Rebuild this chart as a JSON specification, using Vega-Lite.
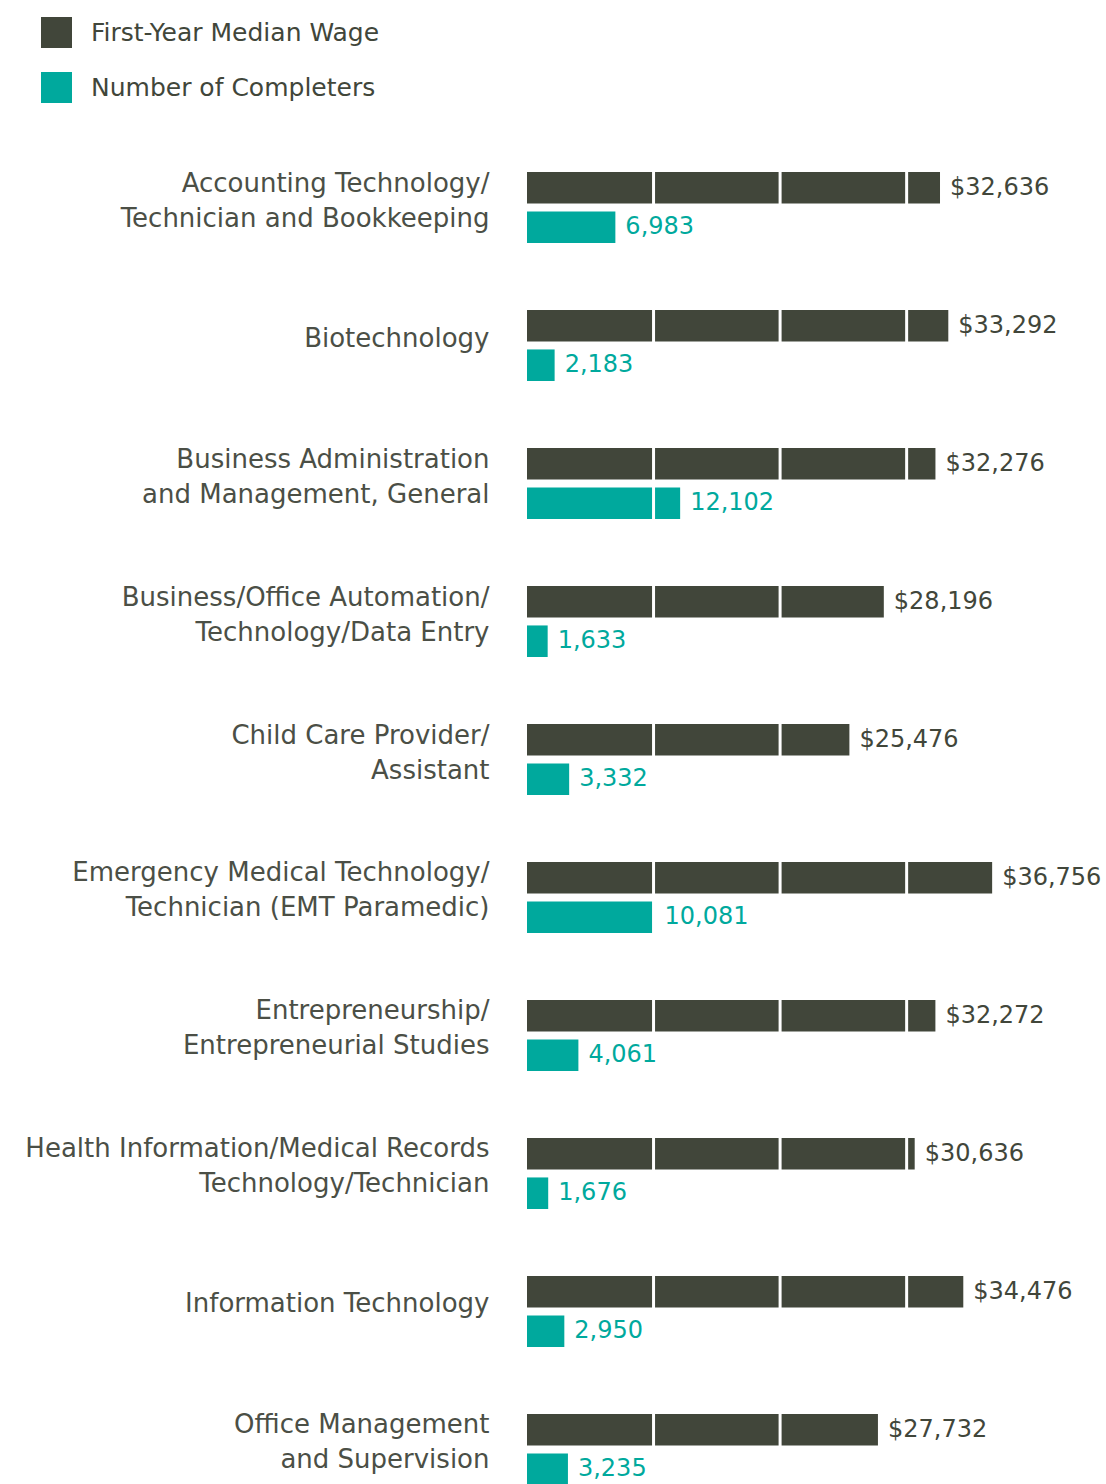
{
  "$schema": "https://vega.github.io/schema/vega-lite/v6.json",
  "width": 572,
  "height": 1313,
  "autosize": {"type": "none"},
  "padding": {"left": 527, "top": 172, "right": 7, "bottom": 0},
  "background": "white",
  "config": {"view": {"stroke": null}, "font": "DejaVu Sans"},
  "datasets": {
    "bars": [
      {"program": "Accounting Technology/\nTechnician and Bookkeeping", "measure": "First-Year Median Wage", "value": 32636},
      {"program": "Accounting Technology/\nTechnician and Bookkeeping", "measure": "Number of Completers", "value": 6983},
      {"program": "Biotechnology", "measure": "First-Year Median Wage", "value": 33292},
      {"program": "Biotechnology", "measure": "Number of Completers", "value": 2183},
      {"program": "Business Administration\nand Management, General", "measure": "First-Year Median Wage", "value": 32276},
      {"program": "Business Administration\nand Management, General", "measure": "Number of Completers", "value": 12102},
      {"program": "Business/Office Automation/\nTechnology/Data Entry", "measure": "First-Year Median Wage", "value": 28196},
      {"program": "Business/Office Automation/\nTechnology/Data Entry", "measure": "Number of Completers", "value": 1633},
      {"program": "Child Care Provider/\nAssistant", "measure": "First-Year Median Wage", "value": 25476},
      {"program": "Child Care Provider/\nAssistant", "measure": "Number of Completers", "value": 3332},
      {"program": "Emergency Medical Technology/\nTechnician (EMT Paramedic)", "measure": "First-Year Median Wage", "value": 36756},
      {"program": "Emergency Medical Technology/\nTechnician (EMT Paramedic)", "measure": "Number of Completers", "value": 10081},
      {"program": "Entrepreneurship/\nEntrepreneurial Studies", "measure": "First-Year Median Wage", "value": 32272},
      {"program": "Entrepreneurship/\nEntrepreneurial Studies", "measure": "Number of Completers", "value": 4061},
      {"program": "Health Information/Medical Records\nTechnology/Technician", "measure": "First-Year Median Wage", "value": 30636},
      {"program": "Health Information/Medical Records\nTechnology/Technician", "measure": "Number of Completers", "value": 1676},
      {"program": "Information Technology", "measure": "First-Year Median Wage", "value": 34476},
      {"program": "Information Technology", "measure": "Number of Completers", "value": 2950},
      {"program": "Office Management\nand Supervision", "measure": "First-Year Median Wage", "value": 27732},
      {"program": "Office Management\nand Supervision", "measure": "Number of Completers", "value": 3235}
    ],
    "grid": [{"tick": 10000}, {"tick": 20000}, {"tick": 30000}]
  },
  "layer": [
    {
      "data": {"name": "bars"},
      "mark": {"type": "bar"},
      "encoding": {
        "y": {
          "field": "program", "type": "nominal", "sort": null,
          "scale": {"paddingInner": 0.4855, "paddingOuter": 0},
          "axis": {
            "title": null, "ticks": false, "tickSize": 0, "domain": false,
            "labelPadding": 38, "labelFontSize": 26, "labelColor": "#4b4f46",
            "labelLineHeight": 35, "labelLimit": 600,
            "labelOffset": {"condition": {"test": "indexof(datum.value, '\\n') >= 0", "value": -24}, "value": -7},
            "labelExpr": "split(datum.label, '\\n')"
          }
        },
        "yOffset": {
          "field": "measure", "type": "nominal",
          "sort": ["First-Year Median Wage", "Number of Completers"],
          "scale": {"paddingInner": 0.2, "paddingOuter": 0}
        },
        "x": {
          "field": "value", "type": "quantitative",
          "scale": {"domain": [0, 45200], "nice": false},
          "axis": null
        },
        "color": {
          "field": "measure", "type": "nominal",
          "scale": {"domain": ["First-Year Median Wage", "Number of Completers"], "range": ["#41463a", "#00a99d"]},
          "legend": {
            "title": null, "orient": "none", "legendX": -486, "legendY": -155,
            "symbolType": "square", "symbolSize": 961, "symbolStrokeWidth": 0,
            "labelFontSize": 25, "labelFontWeight": "normal", "labelColor": "#41463a",
            "labelOffset": 19, "rowPadding": 24, "padding": 0, "labelLimit": 500
          }
        }
      }
    },
    {
      "data": {"name": "grid"},
      "mark": {"type": "rule", "color": "#ffffff", "strokeWidth": 3},
      "encoding": {
        "x": {"field": "tick", "type": "quantitative"}
      }
    },
    {
      "data": {"name": "bars"},
      "transform": [
        {"filter": "datum.measure == 'First-Year Median Wage'"},
        {"calculate": "'$' + format(datum.value, ',')", "as": "label"}
      ],
      "mark": {"type": "text", "align": "left", "baseline": "middle", "dx": 10, "fontSize": 24, "fontWeight": "normal", "color": "#41463a"},
      "encoding": {
        "y": {"field": "program", "type": "nominal", "sort": null},
        "yOffset": {"field": "measure", "type": "nominal", "sort": ["First-Year Median Wage", "Number of Completers"]},
        "x": {"field": "value", "type": "quantitative"},
        "text": {"field": "label"}
      }
    },
    {
      "data": {"name": "bars"},
      "transform": [
        {"filter": "datum.measure == 'Number of Completers'"},
        {"calculate": "format(datum.value, ',')", "as": "label"}
      ],
      "mark": {"type": "text", "align": "left", "baseline": "middle", "dx": 10, "fontSize": 24, "fontWeight": "normal", "color": "#00a99d"},
      "encoding": {
        "y": {"field": "program", "type": "nominal", "sort": null},
        "yOffset": {"field": "measure", "type": "nominal", "sort": ["First-Year Median Wage", "Number of Completers"]},
        "x": {"field": "value", "type": "quantitative"},
        "text": {"field": "label"}
      }
    }
  ]
}
